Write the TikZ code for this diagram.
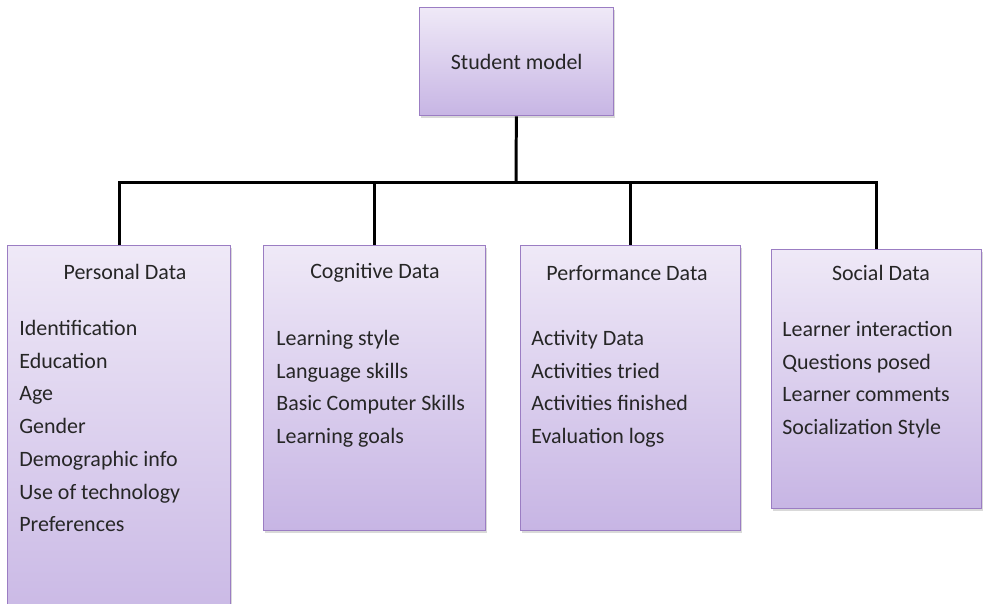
\documentclass[tikz,border=0pt]{standalone}
\usepackage{fontspec}
\setmainfont{Carlito}
\usetikzlibrary{positioning,shadows}

\definecolor{boxtop}{RGB}{239,233,247}
\definecolor{boxbottom}{RGB}{199,181,228}
\definecolor{boxline}{RGB}{155,125,195}

\begin{document}
\begin{tikzpicture}[x=0.02cm,y=-0.02cm,
		part/.style={rectangle,draw=boxline,line width=0.8pt,top color=boxtop,bottom color=boxbottom,
			anchor=north west,inner sep=0pt,drop shadow={shadow xshift=0.8pt,shadow yshift=-1.2pt,opacity=0.3}},
		heading/.style={font=\fontsize{12.5}{15}\selectfont,text=black!85,inner sep=0pt},
		items/.style={font=\fontsize{12.5}{18.6}\selectfont,text=black!85,align=left,anchor=north west,inner sep=0pt},
		link/.style={line width=1.7pt}]

	\useasboundingbox (0,0) rectangle (985,603);
	\clip (0,0) rectangle (985,603);

	% top box
	\node[part,minimum width=3.88cm,minimum height=2.16cm,font=\fontsize{12.5}{15}\selectfont,text=black!85] (model) at (419,7) {Student model};

	% the four data boxes
	\node[part,minimum width=4.46cm,minimum height=8cm] (personal) at (7,245) {};
	\node[part,minimum width=4.44cm,minimum height=5.7cm] (cognitive) at (263,245) {};
	\node[part,minimum width=4.4cm,minimum height=5.7cm] (performance) at (520,245) {};
	\node[part,minimum width=4.2cm,minimum height=5.18cm] (social) at (771,249) {};

	\node[heading] (personal title) at (125,272) {Personal Data};
	\node[heading] (cognitive title) at (375,273) {Cognitive Data};
	\node[heading] (performance title) at (627,273) {Performance Data};
	\node[heading] (social title) at (881,273) {Social Data};

	\node[items] (personal list) at (19,320) {Identification\\Education\\Age\\Gender\\Demographic info\\Use of technology\\Preferences};
	\node[items] (cognitive list) at (276,330) {Learning style\\Language skills\\Basic Computer Skills\\Learning goals};
	\node[items] (performance list) at (531,330) {Activity Data\\Activities tried\\Activities finished\\Evaluation logs};
	\node[items] (social list) at (782,321) {Learner interaction\\Questions posed\\Learner comments\\Socialization Style};

	% tree lines
	\coordinate (hub) at (516,182);
	\draw[link] (model) -- (hub);
	\foreach \part in {personal,cognitive,performance,social}
		\draw[link] (hub) -| (\part.north);
\end{tikzpicture}
\end{document}
